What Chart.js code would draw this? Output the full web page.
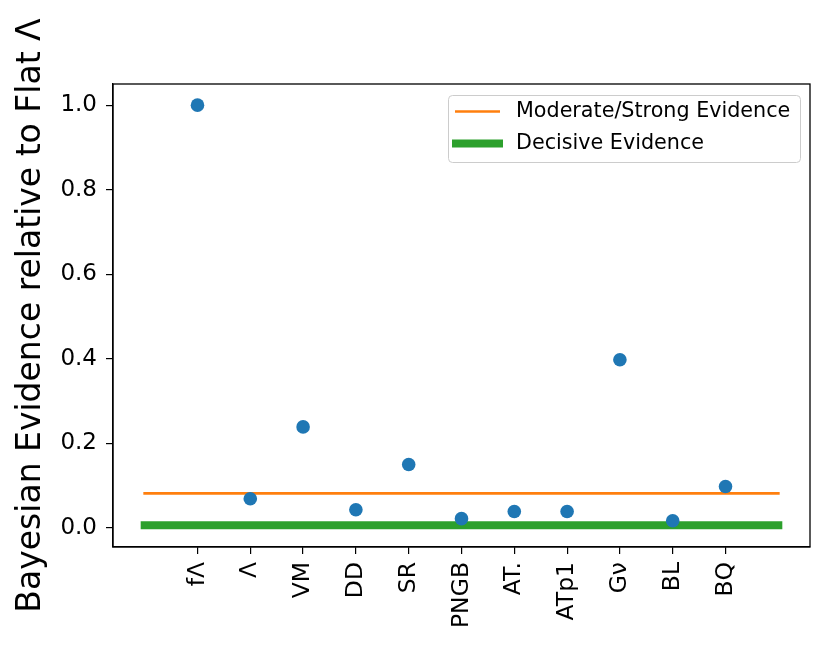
<!DOCTYPE html>
<html>
<head>
<meta charset="utf-8">
<script src="https://cdn.jsdelivr.net/npm/chart.js@4/dist/chart.umd.min.js"></script>
<style>
  body { margin: 0; background: #fff; }
  #wrap { width: 833px; height: 647px; }
</style>
</head>
<body>
<div id="wrap"><canvas id="chart" width="833" height="647"></canvas></div>
<script>
// values
const categories = ['fΛ', 'Λ', 'VM', 'DD', 'SR', 'PNGB', 'AT.', 'ATp1', 'Gν', 'BL', 'BQ'];
const evidence = [1.0, 0.069, 0.239, 0.043, 0.150, 0.022, 0.039, 0.039, 0.398, 0.017, 0.098];
const moderateLevel = 0.082;   // e^-2.5
const decisiveLevel = 0.0067;  // e^-5
const lineSpan = [-1, 11];
const yTicks = [0.0, 0.2, 0.4, 0.6, 0.8, 1.0];
const seriesNames = ['Moderate/Strong Evidence', 'Decisive Evidence'];

const FONT = "'DejaVu Sans', sans-serif";
const BLUE = '#1f77b4', ORANGE = '#ff7f0e', GREEN = '#2ca02c';

const points = categories.map((c, i) => ({ x: i, y: evidence[i] }));

// top and right spines
const frame = {
  id: 'frame',
  afterDraw(chart) {
    const { ctx, chartArea: a } = chart;
    ctx.save();
    ctx.strokeStyle = '#000';
    ctx.lineWidth = 1.3;
    ctx.strokeRect(a.left, a.top, a.right - a.left, a.bottom - a.top);
    ctx.restore();
  }
};

// matplotlib-style legend box in the upper right
const boxLegend = {
  id: 'boxLegend',
  afterDraw(chart) {
    const ctx = chart.ctx;
    const x0 = 448, y0 = 95, w = 352, h = 67;
    ctx.save();
    ctx.fillStyle = 'rgba(255,255,255,0.8)';
    ctx.strokeStyle = '#cccccc';
    ctx.lineWidth = 1;
    ctx.beginPath();
    ctx.roundRect(x0 + 0.5, y0 + 0.5, w, h, 4);
    ctx.fill();
    ctx.stroke();
    const rows = [
      { ds: chart.data.datasets[1], y: 111.5 },
      { ds: chart.data.datasets[2], y: 143.5 }
    ];
    rows.forEach(r => {
      ctx.strokeStyle = r.ds.borderColor;
      ctx.lineWidth = r.ds.borderWidth;
      ctx.lineCap = 'butt';
      ctx.beginPath();
      ctx.moveTo(r.ds.borderWidth > 4 ? 452 : 455, r.y);
      ctx.lineTo(r.ds.borderWidth > 4 ? 503 : 500, r.y);
      ctx.stroke();
      ctx.fillStyle = '#000';
      ctx.font = '20.7px ' + FONT;
      ctx.textBaseline = 'middle';
      ctx.fillText(r.ds.label, 516, r.y);
    });
    ctx.restore();
  }
};

new Chart(document.getElementById('chart'), {
  type: 'scatter',
  data: {
    datasets: [
      {
        label: 'evidence',
        data: points,
        backgroundColor: BLUE,
        borderWidth: 0,
        pointRadius: 6.8,
        pointHoverRadius: 6.8,
        order: 0
      },
      {
        type: 'line',
        label: seriesNames[0],
        data: lineSpan.map(x => ({ x, y: moderateLevel })),
        borderColor: ORANGE,
        borderWidth: 2.7,
        borderCapStyle: 'square',
        pointRadius: 0,
        order: 2
      },
      {
        type: 'line',
        label: seriesNames[1],
        data: lineSpan.map(x => ({ x, y: decisiveLevel })),
        borderColor: GREEN,
        borderWidth: 8,
        borderCapStyle: 'square',
        pointRadius: 0,
        order: 1
      }
    ]
  },
  options: {
    responsive: false,
    animation: false,
    layout: { padding: { top: 84, right: 23, left: 0, bottom: 0 } },
    plugins: { legend: { display: false }, tooltip: { enabled: false } },
    scales: {
      x: {
        type: 'linear',
        min: -1.6,
        max: 11.6,
        afterBuildTicks(scale) { scale.ticks = categories.map((c, i) => ({ value: i })); },
        afterFit(scale) { scale.height = 100; },
        ticks: {
          callback: (v) => categories[v],
          minRotation: 90,
          maxRotation: 90,
          autoSkip: false,
          padding: 8,
          color: '#000',
          font: { family: FONT, size: 23.5 }
        },
        grid: { drawOnChartArea: false, drawTicks: true, tickLength: 7, color: '#000', lineWidth: 1.2 },
        border: { display: true, color: '#000', width: 1.3 }
      },
      y: {
        min: -0.045,
        max: 1.05,
        afterBuildTicks(scale) { scale.ticks = yTicks.map(v => ({ value: v })); },
        afterFit(scale) { scale.width = 113; },
        ticks: {
          callback: (v) => v.toFixed(1),
          padding: 9,
          color: '#000',
          font: { family: FONT, size: 23 }
        },
        grid: { drawOnChartArea: false, drawTicks: true, tickLength: 7, color: '#000', lineWidth: 1.2 },
        border: { display: true, color: '#000', width: 1.3 },
        title: {
          display: true,
          text: 'Bayesian Evidence relative to Flat Λ',
          color: '#000',
          font: { family: FONT, size: 33 },
          padding: { top: 12, bottom: 0 }
        }
      }
    }
  },
  plugins: [frame, boxLegend]
});
</script>
</body>
</html>
